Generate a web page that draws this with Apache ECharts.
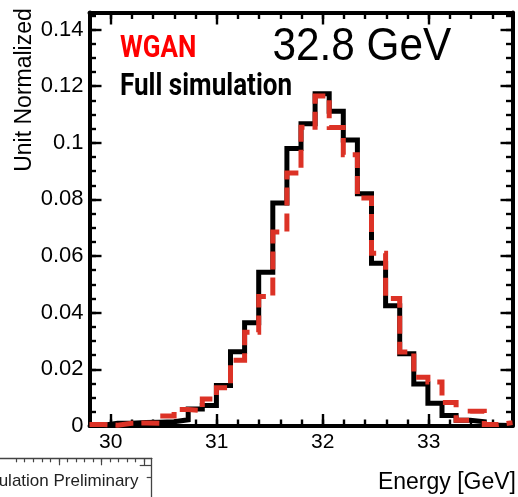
<!DOCTYPE html>
<html><head><meta charset="utf-8">
<script src="https://cdn.jsdelivr.net/npm/echarts@6/dist/echarts.min.js"></script>
<style>html,body{margin:0;padding:0;background:#fff}#c{width:518px;height:497px}</style>
</head><body><div id="c"></div>
<script>
// ---- data ----
const binEdges = [29.8, 29.933, 30.066, 30.199, 30.332, 30.465, 30.598, 30.731, 30.864, 30.997,
  31.13, 31.263, 31.396, 31.529, 31.662, 31.795, 31.928, 32.061, 32.194, 32.327,
  32.46, 32.593, 32.726, 32.859, 32.992, 33.125, 33.258, 33.391, 33.524, 33.657, 33.79];
const fullSim = [0.0003, 0.001, 0.001, 0.0012, 0.0013, 0.0015, 0.0022, 0.006, 0.0072, 0.0143,
  0.0262, 0.0365, 0.0543, 0.0787, 0.098, 0.1067, 0.1173, 0.1111, 0.101, 0.082,
  0.0575, 0.0425, 0.0255, 0.0148, 0.008, 0.0037, 0.002, 0.0015, 0.0003, 0.0002];
const wgan = [0.0005, 0.0003, 0.001, 0.0011, 0.001, 0.0035, 0.0058, 0.0055, 0.0095, 0.0135,
  0.0232, 0.0331, 0.0457, 0.0685, 0.0893, 0.1055, 0.1165, 0.1054, 0.0958, 0.0805,
  0.061, 0.045, 0.0261, 0.0172, 0.0155, 0.0083, 0.002, 0.0052, 0.0005, 0.0012];
const xTickLabels = [30, 31, 32, 33];
const yTickLabels = [0, 0.02, 0.04, 0.06, 0.08, 0.1, 0.12, 0.14];
const xMin = 29.8, xMax = 33.79, yMin = 0, yMax = 0.146;
const xMinorStep = 0.2, yMinorStep = 0.005;

// ---- helpers ----
function stepData(vals) {
  const d = vals.map((v, i) => [binEdges[i], v]);
  d.push([binEdges[vals.length], vals[vals.length - 1]]);
  return d;
}
const xMinor = [];
for (let v = 30.0; v < xMax - 1e-6; v += xMinorStep) xMinor.push(+v.toFixed(3));
const yMinor = [];
for (let v = 0; v < yMax - 1e-6; v += yMinorStep) yMinor.push(+v.toFixed(4));

const AX = '#000';
const FF = 'Liberation Sans, Arial, sans-serif';
function xAx(pos, ticks, len, line, label) {
  return {type: 'value', gridIndex: 0, position: pos, min: xMin, max: xMax,
    axisLine: {show: line, onZero: false, lineStyle: {color: AX, width: 4}},
    axisTick: {show: true, inside: true, length: len, customValues: ticks, lineStyle: {color: AX, width: 2.4}},
    axisLabel: {show: label, customValues: xTickLabels, margin: 6, color: AX, fontFamily: FF, fontSize: 21},
    splitLine: {show: false}};
}
function yAx(pos, ticks, len, line, label) {
  return {type: 'value', gridIndex: 0, position: pos, min: yMin, max: yMax,
    axisLine: {show: line, onZero: false, lineStyle: {color: AX, width: 4}},
    axisTick: {show: true, inside: true, length: len, customValues: ticks, lineStyle: {color: AX, width: 2.4}},
    axisLabel: {show: label, customValues: yTickLabels, margin: 6, color: AX, fontFamily: FF, fontSize: 22,
      formatter: v => String(parseFloat((+v).toFixed(3)))},
    splitLine: {show: false}};
}
// inset (fragment of a neighbouring plot)
const insetTopTicks = [];
for (let k = 0; k < 16; k++) insetTopTicks.push(+(17.3 + 9.07 * k).toFixed(2));
const insetTopMajor = [insetTopTicks[5], insetTopTicks[10], insetTopTicks[15]];
function insX(ticks, len, line) {
  return {type: 'value', gridIndex: 1, position: 'top', min: 0, max: 161.7,
    axisLine: {show: line, onZero: false, lineStyle: {color: '#444', width: 1.3}},
    axisTick: {show: true, inside: true, length: len, customValues: ticks, lineStyle: {color: '#444', width: 1.2}},
    axisLabel: {show: false}, splitLine: {show: false}};
}
function insY(ticks, len, line) {
  return {type: 'value', gridIndex: 1, position: 'right', inverse: true, min: 0, max: 60,
    axisLine: {show: line, onZero: false, lineStyle: {color: '#444', width: 1.3}},
    axisTick: {show: true, inside: true, length: len, customValues: ticks, lineStyle: {color: '#444', width: 1.2}},
    axisLabel: {show: false}, splitLine: {show: false}};
}

const chart = echarts.init(document.getElementById('c'), null, {renderer: 'canvas'});
chart.setOption({
  animation: false,
  backgroundColor: '#fff',
  grid: [
    {left: 89.5, right: 5.5, top: 12.5, bottom: 71},
    {left: -10, top: 458.3, width: 161.7, height: 60}
  ],
  xAxis: [
    xAx('bottom', xTickLabels, 12, true, true),
    xAx('bottom', xMinor, 6.5, false, false),
    xAx('top', xTickLabels, 12, true, false),
    xAx('top', xMinor, 6.5, false, false),
    insX(insetTopTicks, 4, true),
    insX(insetTopMajor, 7, false)
  ],
  yAxis: [
    yAx('left', yTickLabels, 12, true, true),
    yAx('left', yMinor, 6.5, false, false),
    yAx('right', yTickLabels, 12, true, false),
    yAx('right', yMinor, 6.5, false, false),
    insY([10], 12, true),
    insY([29.7], 5, false)
  ],
  series: [
    {name: 'Full simulation', type: 'line', xAxisIndex: 0, yAxisIndex: 0, step: 'end',
     data: stepData(fullSim), symbol: 'none', clip: true,
     lineStyle: {color: '#000', width: 5, join: 'miter', cap: 'butt'}},
    {name: 'WGAN', type: 'line', xAxisIndex: 0, yAxisIndex: 0, step: 'end',
     data: stepData(wgan), symbol: 'none', clip: true,
     lineStyle: {color: '#dc3226', width: 5, type: [18, 8], join: 'miter', cap: 'butt'}}
  ],
  graphic: [
    {type: 'text', x: 25, y: 90, rotation: Math.PI / 2,
     style: {text: 'Unit Normalized', fill: '#000', font: '23px "Liberation Sans", Arial, sans-serif',
       align: 'center', verticalAlign: 'middle', textAlign: 'center', textVerticalAlign: 'middle'}},
    {type: 'text', x: 516, y: 471,
     style: {text: 'Energy [GeV]', fill: '#000', font: '23px "Liberation Sans", Arial, sans-serif',
       align: 'right', verticalAlign: 'top', textAlign: 'right', textVerticalAlign: 'top'}},
    {type: 'text', x: 120, y: 33.5, scaleX: 0.84,
     style: {text: 'WGAN', fill: '#ff0000', font: 'bold 31px Roboto, "Liberation Sans", sans-serif',
       align: 'left', verticalAlign: 'top', textAlign: 'left', textVerticalAlign: 'top'}},
    {type: 'text', x: 120, y: 71.5, scaleX: 0.84,
     style: {text: 'Full simulation', fill: '#000', font: 'bold 31px Roboto, "Liberation Sans", sans-serif',
       align: 'left', verticalAlign: 'top', textAlign: 'left', textVerticalAlign: 'top'}},
    {type: 'text', x: 272.5, y: 24, scaleX: 0.92,
     style: {text: '32.8 GeV', fill: '#000', font: '46px "Liberation Sans", Arial, sans-serif',
       align: 'left', verticalAlign: 'top', textAlign: 'left', textVerticalAlign: 'top'}},
    {type: 'text', x: 138.5, y: 473,
     style: {text: 'Simulation Preliminary', fill: '#222', font: '17px "Liberation Sans", Arial, sans-serif',
       align: 'right', verticalAlign: 'top', textAlign: 'right', textVerticalAlign: 'top'}}
  ]
});
</script>
</body></html>
